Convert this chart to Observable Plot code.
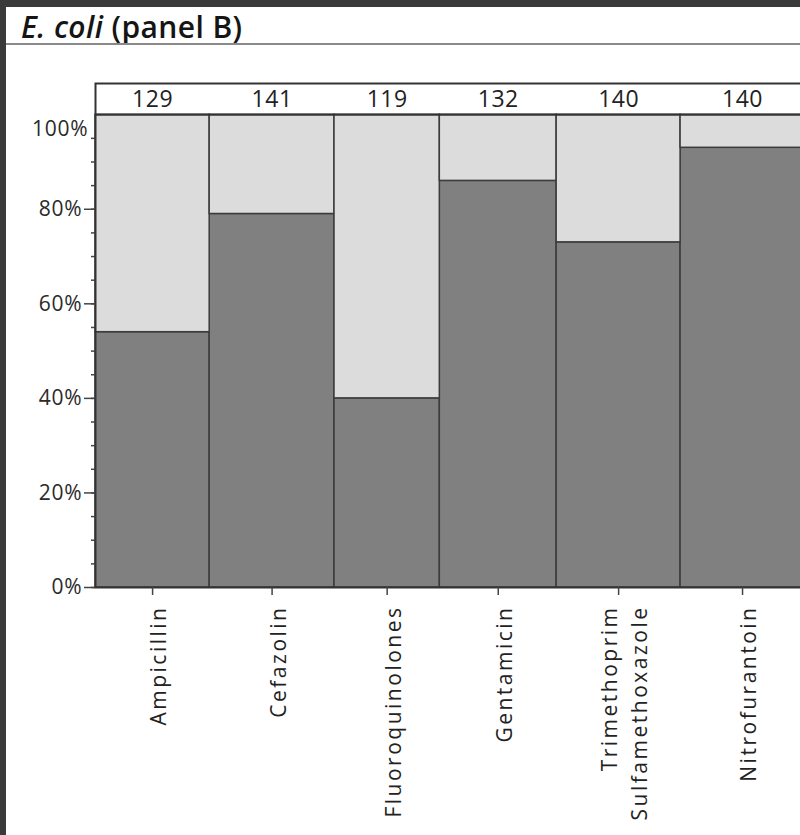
<!DOCTYPE html>
<html>
<head>
<meta charset="utf-8">
<script src="https://cdn.jsdelivr.net/npm/d3@7"></script>
<script src="https://cdn.jsdelivr.net/npm/@observablehq/plot@0.6"></script>
<style>
  html, body { margin: 0; padding: 0; width: 800px; height: 835px; overflow: hidden; background: #fff; }
  #frame { position: absolute; left: 0; top: 0; width: 800px; height: 835px; background: #3a3a3a; }
  #panel { position: absolute; left: 6px; top: 7px; width: 810px; height: 840px; background: #fff; }
  #title { position: absolute; left: 15px; top: 0; height: 36px; line-height: 40px; white-space: nowrap;
           font-family: "Open Sans", sans-serif; font-size: 30px; color: #151515; font-weight: 600; letter-spacing: 0.4px; }
  #rule { position: absolute; left: 0; top: 36px; width: 810px; height: 2px; background: #8a8a8a; }
  #chart { position: absolute; left: -6px; top: 39px; }
</style>
</head>
<body>
<div id="frame"></div>
<div id="panel">
  <div id="title"><i>E. coli</i> (panel B)</div>
  <div id="rule"></div>
  <div id="chart"></div>
</div>
<script>
const categories = ["Ampicillin", "Cefazolin", "Fluoroquinolones", "Gentamicin", "Trimethoprim\nSulfamethoxazole", "Nitrofurantoin"];
const counts = [129, 141, 119, 132, 140, 140];
const susceptiblePct = [54, 79, 40, 86, 73, 93];
const majorTicks = [0, 20, 40, 60, 80];
const topTick = [100];
const minorTicks = d3.range(0, 100, 5);

const total = d3.sum(counts);
const cum = [0, ...d3.cumsum(counts)];
const rows = categories.map((c, i) => ({
  cat: c, n: counts[i], pct: susceptiblePct[i], base: 0, full: 100,
  x1: cum[i], x2: cum[i + 1], xm: (cum[i] + cum[i + 1]) / 2
}));
const headerTop = 106.6;
const headerMid = (100 + headerTop) / 2;

const chart = Plot.plot({
  width: 810,
  height: 796,
  marginLeft: 95,
  marginRight: 6,
  marginTop: 37,
  marginBottom: 255,
  x: { domain: [0, total], axis: null },
  y: { domain: [0, headerTop], axis: null, type: "linear" },
  style: { fontFamily: "'Open Sans', sans-serif", color: "#333", background: "transparent", overflow: "visible" },
  marks: [
    Plot.rect(rows, { x1: "x1", x2: "x2", y1: "base", y2: "pct", fill: "#808080", stroke: "#3c3c3c", strokeWidth: 1.5 }),
    Plot.rect(rows, { x1: "x1", x2: "x2", y1: "pct", y2: "full", fill: "#dcdcdc", stroke: "#3c3c3c", strokeWidth: 1.5 }),
    Plot.ruleY(topTick, { stroke: "#333", strokeWidth: 2 }),
    Plot.frame({ stroke: "#333", strokeWidth: 2 }),
    Plot.text(rows, { x: "xm", y: () => headerMid, text: d => String(d.n), fontSize: 23, fill: "#222", dy: 1, ariaLabel: "count labels" }),
    Plot.axisY({ ticks: majorTicks, label: null, tickSize: 11, tickPadding: 2, tickFormat: d => d + "%", fontSize: 21, stroke: "#444", strokeWidth: 1.5, fill: "#2a2a2a", ariaLabel: "percent labels" }),
    Plot.axisY({ ticks: minorTicks, label: null, tickSize: 4, tickFormat: () => "", stroke: "#444", strokeWidth: 1.5 }),
    Plot.axisY({ ticks: topTick, label: null, tickSize: 0, tickPadding: 7, dy: 15, tickFormat: d => d + "%", fontSize: 21, fill: "#2a2a2a", ariaLabel: "percent labels" }),
    Plot.ruleX(rows, { x: "xm", y1: "base", y2: "base", insetBottom: -8, stroke: "#444", strokeWidth: 1.5 }),
    Plot.text(rows, { x: "xm", y: "base", text: "cat", rotate: -90, textAnchor: "end", lineAnchor: "middle",
      dy: 18, dx: 4, fontSize: 21, fill: "#222", lineHeight: 1.4, ariaLabel: "category labels" })
  ]
});
// letter spacing, applied to the rendered text nodes
const catWords = new Set(categories.flatMap(c => c.split("\n")));
d3.select(chart).selectAll("text, tspan").each(function () {
  const t = this.textContent.trim();
  if (this.tagName === "text" && this.querySelector("tspan")) return;
  if (catWords.has(t)) { this.setAttribute("letter-spacing", "2.5"); this.style.letterSpacing = "2.5px"; }
  else if (/%$/.test(t)) { this.setAttribute("letter-spacing", "0.8"); this.style.letterSpacing = "0.8px"; }
  else if (/^\d+$/.test(t)) { this.setAttribute("letter-spacing", "0.5"); this.style.letterSpacing = "0.5px"; }
});
document.getElementById("chart").appendChild(chart);
</script>
</body>
</html>
